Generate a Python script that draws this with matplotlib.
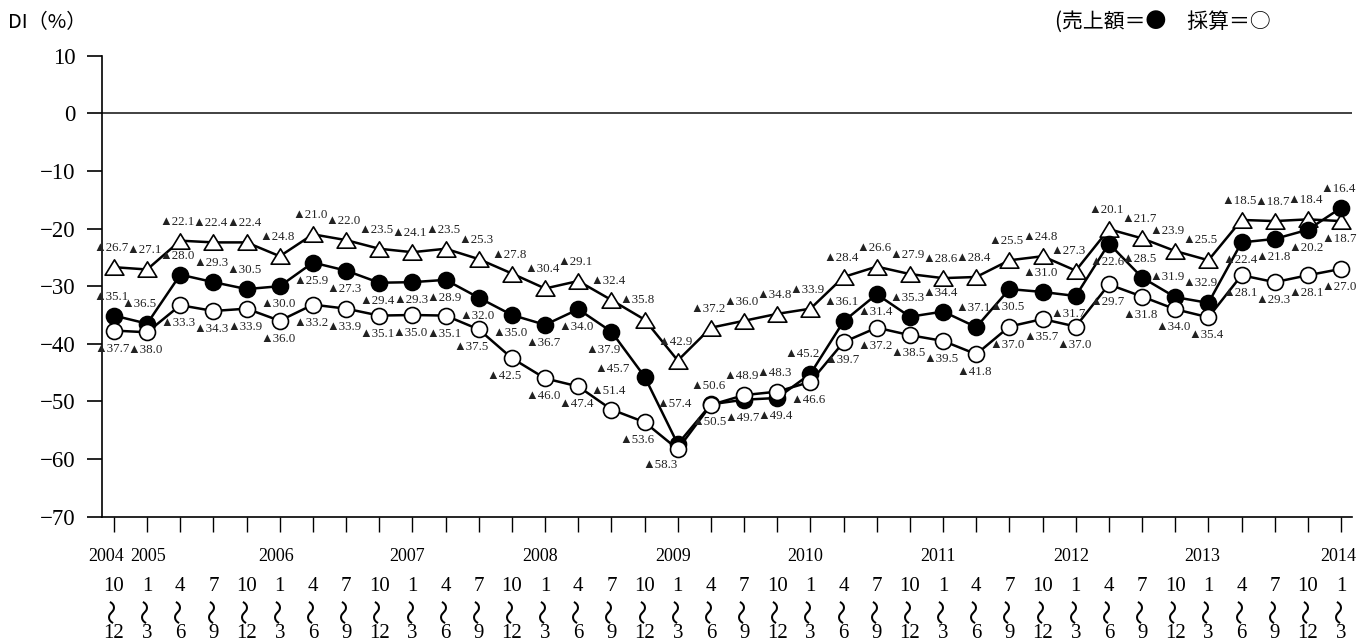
import matplotlib
matplotlib.use('Agg')
import matplotlib.pyplot as plt
from matplotlib.path import Path

# quarterly DI values (▲ = minus), 2004 Oct-Dec .. 2014 Jan-Mar
business = [-26.7, -27.1, -22.1, -22.4, -22.4, -24.8, -21.0, -22.0, -23.5, -24.1,
            -23.5, -25.3, -27.8, -30.4, -29.1, -32.4, -35.8, -42.9, -37.2, -36.0,
            -34.8, -33.9, -28.4, -26.6, -27.9, -28.6, -28.4, -25.5, -24.8, -27.3,
            -20.1, -21.7, -23.9, -25.5, -18.5, -18.7, -18.4, -18.7]
sales = [-35.1, -36.5, -28.0, -29.3, -30.5, -30.0, -25.9, -27.3, -29.4, -29.3,
         -28.9, -32.0, -35.0, -36.7, -34.0, -37.9, -45.7, -57.4, -50.5, -49.7,
         -49.4, -45.2, -36.1, -31.4, -35.3, -34.4, -37.1, -30.5, -31.0, -31.7,
         -22.6, -28.5, -31.9, -32.9, -22.4, -21.8, -20.2, -16.4]
profit = [-37.7, -38.0, -33.3, -34.3, -33.9, -36.0, -33.2, -33.9, -35.1, -35.0,
          -35.1, -37.5, -42.5, -46.0, -47.4, -51.4, -53.6, -58.3, -50.6, -48.9,
          -48.3, -46.6, -39.7, -37.2, -38.5, -39.5, -41.8, -37.0, -35.7, -37.0,
          -29.7, -31.8, -34.0, -35.4, -28.1, -29.3, -28.1, -27.0]

month_from = ['10', '1', '4', '7', '10', '1', '4', '7', '10', '1', '4', '7', '10',
              '1', '4', '7', '10', '1', '4', '7', '10', '1', '4', '7', '10', '1',
              '4', '7', '10', '1', '4', '7', '10', '1', '4', '7', '10', '1']
month_to = ['12', '3', '6', '9', '12', '3', '6', '9', '12', '3', '6', '9', '12',
            '3', '6', '9', '12', '3', '6', '9', '12', '3', '6', '9', '12', '3',
            '6', '9', '12', '3', '6', '9', '12', '3', '6', '9', '12', '3']
years = ['2004', '2005', '2006', '2007', '2008', '2009', '2010', '2011', '2012', '2013', '2014']
year_pos = [0, 1, 5, 9, 13, 17, 21, 25, 29, 33, 37]
year_shift = [-0.24, 0.02, -0.12, -0.15, -0.15, -0.15, -0.15, -0.15, -0.15, -0.2, -0.1]

# where each value label sits relative to its marker
offsets = {'a': (-3, 19), 'al': (-8, 20), 'b': (-2, -18), 'bl': (-8, -18),
           'l': (-33, 8), 'a2': (-4, 40), 'l2': (-18, -16)}
business_pos = ['a'] * len(business)
for i in [16, 29, 32, 33]:
    business_pos[i] = 'al'
business_pos[37] = 'b'
sales_pos = ['b'] * len(sales)
for i, p in {0: 'a', 1: 'al', 2: 'a', 3: 'a', 4: 'a', 15: 'bl', 16: 'l', 17: 'a2',
             21: 'al', 22: 'a', 24: 'a', 25: 'a', 26: 'a', 28: 'a', 29: 'bl',
             31: 'a', 32: 'al', 33: 'al', 37: 'a'}.items():
    sales_pos[i] = p
profit_pos = ['b'] * len(profit)
for i, p in {11: 'bl', 12: 'bl', 15: 'a', 16: 'bl', 17: 'l2', 18: 'a', 19: 'a', 20: 'a'}.items():
    profit_pos[i] = p

plt.rcParams['font.family'] = ['Liberation Serif', 'DejaVu Sans']

fig = plt.figure(figsize=(13.72, 6.44), dpi=100)
ax = fig.add_axes([0.0741, 0.1977, 0.9111, 0.7158])

x = list(range(len(business)))
tri = Path([(0, 0.82), (-1, -0.82), (1, -0.82), (0, 0.82)], closed=True)

ax.axhline(0, color='#333333', lw=1.3, zorder=1)
ax.plot(x, business, color='black', lw=1.8, marker=tri, ms=13.5,
        mfc='white', mec='black', mew=1.2, zorder=3)
ax.plot(x, sales, color='black', lw=1.8, marker='o', ms=11.5,
        mfc='black', mec='black', mew=1.2, zorder=4)
ax.plot(x, profit, color='black', lw=1.8, marker='o', ms=11.5,
        mfc='white', mec='black', mew=1.2, zorder=5)

for vals, pos in [(business, business_pos), (sales, sales_pos), (profit, profit_pos)]:
    for i, v in enumerate(vals):
        ax.annotate('▲%.1f' % abs(v), (i, v), xytext=offsets[pos[i]],
                    textcoords='offset pixels', ha='center', va='center',
                    fontsize=9.3, color='#222222', zorder=6)

ax.set_ylim(-70, 10)
ax.set_yticks(range(-70, 11, 10))
ax.set_xlim(-0.371, 37.32)
ax.set_xticks(x)
ax.set_xticklabels([])
ax.spines['top'].set_visible(False)
ax.spines['right'].set_visible(False)
ax.spines['left'].set_linewidth(1.2)
ax.spines['bottom'].set_linewidth(1.2)
ax.tick_params(axis='y', direction='out', length=10.8, width=1.2, pad=8, labelsize=16.5)
ax.tick_params(axis='x', direction='out', length=10.8, width=1.0)

trans = ax.get_xaxis_transform()
for y, p, s in zip(years, year_pos, year_shift):
    ax.text(p + s, -0.0874, y, transform=trans, ha='center', va='center', fontsize=13)
for i in x:
    ax.text(i, -0.152, month_from[i], transform=trans, ha='center', va='center', fontsize=15)
    ax.text(i, -0.2025, '〜', transform=trans, ha='center', va='center', fontsize=18,
            rotation=90, family=['Noto Sans CJK JP'])
    ax.text(i, -0.2525, month_to[i], transform=trans, ha='center', va='center', fontsize=15)

fig.text(8 / 1372, 1 - 23 / 644, 'DI（%）', family=['Noto Sans CJK JP'],
         fontsize=14.5, ha='left', va='center')
fig.text(1055 / 1372, 1 - 22 / 644, '(売上額＝●　採算＝○', family=['Noto Sans CJK JP'],
         fontsize=15, ha='left', va='center')

fig.savefig('out.png', dpi=100)
